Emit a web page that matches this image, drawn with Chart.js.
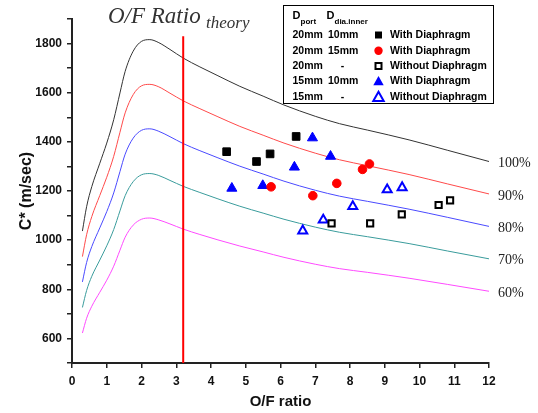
<!DOCTYPE html>
<html>
<head>
<meta charset="utf-8">
<script src="https://cdn.jsdelivr.net/npm/chart.js@4"></script>
<style>
  html, body { margin: 0; padding: 0; background: #fff; }
  canvas { display: block; }
</style>
</head>
<body>
<canvas id="chart" width="538" height="413"></canvas>
<script>
// theoretical C* curves
const ofTheory = [0.3, 0.42, 0.57, 0.8, 1.0, 1.2, 1.38, 1.53, 1.76, 2.0, 2.24, 2.48, 2.82, 3.2, 3.68, 4.2, 4.83, 5.5, 6.1, 7.0, 7.7, 8.5, 9.7, 10.8, 12];
const cStar100 = [1037, 1136, 1218, 1313, 1395, 1490, 1599, 1687, 1769, 1809, 1816, 1805, 1776, 1741, 1705, 1669, 1626, 1586, 1550, 1504, 1474, 1448, 1408, 1366, 1320];
const cStar90 = [933, 1022, 1096, 1182, 1256, 1341, 1439, 1518, 1592, 1628, 1634, 1625, 1598, 1567, 1535, 1502, 1463, 1427, 1395, 1354, 1327, 1303, 1267, 1229, 1188];
const cStar80 = [830, 909, 974, 1050, 1116, 1192, 1279, 1350, 1415, 1447, 1453, 1444, 1421, 1393, 1364, 1335, 1301, 1269, 1240, 1203, 1179, 1158, 1126, 1093, 1056];
const cStar70 = [726, 795, 853, 919, 977, 1043, 1119, 1181, 1238, 1266, 1271, 1264, 1243, 1219, 1194, 1168, 1138, 1110, 1085, 1053, 1032, 1014, 986, 956, 924];
const cStar60 = [622, 682, 731, 788, 837, 894, 959, 1012, 1061, 1085, 1090, 1083, 1066, 1045, 1023, 1001, 976, 952, 930, 902, 884, 869, 845, 820, 792];
const curveLabels = ["100%", "90%", "80%", "70%", "60%"];
const curveColors = ["#333333", "#ff4a4a", "#4a4aff", "#3a9c9c", "#ff4aff"];

// O/F ratio of the theory line
const ofTheoryLine = 3.2;

// measured points
const of20x10 = [4.45, 5.31, 5.70, 6.45];
const c20x10 = [1360, 1320, 1351, 1422];
const of20x15 = [5.73, 6.93, 7.62, 8.36, 8.56];
const c20x15 = [1217, 1181, 1231, 1288, 1310];
const of20none = [7.47, 8.58, 9.49, 10.55, 10.88];
const c20none = [1068, 1068, 1105, 1143, 1162];
const of15x10 = [4.60, 5.49, 6.40, 6.92, 7.44];
const c15x10 = [1211, 1222, 1297, 1416, 1341];
const of15none = [6.64, 7.23, 8.08, 9.07, 9.50];
const c15none = [1038, 1082, 1137, 1205, 1214];

// legend table
const dPort = ["20mm", "20mm", "20mm", "15mm", "15mm"];
const dDiaInner = ["10mm", "15mm", "-", "10mm", "-"];
const seriesLabels = ["With Diaphragm", "With Diaphragm", "Without Diaphragm", "With Diaphragm", "Without Diaphragm"];

const curveValues = [cStar100, cStar90, cStar80, cStar70, cStar60];
const toPoints = (xs, ys) => xs.map((x, i) => ({ x: x, y: ys[i] }));

const markerStyles = [
    { style: "rect", color: "#000000", filled: true, r: 5.4 },
    { style: "circle", color: "#ff0000", filled: true, r: 4.3 },
    { style: "rect", color: "#000000", filled: false, r: 4.4 },
    { style: "triangle", color: "#0000ff", filled: true, r: 5.8 },
    { style: "triangle", color: "#0000ff", filled: false, r: 5.2 },
];
const measured = [
    toPoints(of20x10, c20x10),
    toPoints(of20x15, c20x15),
    toPoints(of20none, c20none),
    toPoints(of15x10, c15x10),
    toPoints(of15none, c15none),
];

const datasets = [];
measured.forEach((pts, i) => {
    const m = markerStyles[i];
    datasets.push({
        type: "scatter",
        data: pts,
        pointStyle: m.style,
        pointRadius: m.r,
        backgroundColor: m.filled ? m.color : "#ffffff",
        borderColor: m.color,
        borderWidth: m.filled ? 1 : 2,
        order: 1,
    });
});
datasets.push({
    type: "line",
    data: [{ x: ofTheoryLine, y: 500 }, { x: ofTheoryLine, y: 1830 }],
    borderColor: "#ff0000",
    borderWidth: 2,
    pointRadius: 0,
    order: 2,
});
curveValues.forEach((vals, i) => {
    datasets.push({
        type: "line",
        data: toPoints(ofTheory, vals),
        borderColor: curveColors[i],
        borderWidth: 1,
        pointRadius: 0,
        cubicInterpolationMode: "monotone",
        fill: false,
        order: 3,
    });
});

function drawMarker(ctx, m, x, y, r) {
    ctx.beginPath();
    if (m.style === "rect") {
        ctx.rect(x - r, y - r, 2 * r, 2 * r);
    } else if (m.style === "circle") {
        ctx.arc(x, y, r, 0, Math.PI * 2);
    } else {
        ctx.moveTo(x, y - r);
        ctx.lineTo(x + r * 0.87, y + r * 0.55);
        ctx.lineTo(x - r * 0.87, y + r * 0.55);
        ctx.closePath();
    }
    if (m.filled) {
        ctx.fillStyle = m.color;
        ctx.fill();
    } else {
        ctx.fillStyle = "#fff";
        ctx.fill();
        ctx.lineWidth = 2;
        ctx.strokeStyle = m.color;
        ctx.stroke();
    }
}

// title, curve labels and the legend table
const overlayPlugin = {
    id: "overlay",
    afterDraw(chart) {
        const ctx = chart.ctx;
        const yScale = chart.scales.y;
        ctx.save();

        ctx.fillStyle = "#333";
        ctx.textAlign = "left";
        ctx.textBaseline = "alphabetic";
        ctx.font = "italic 23px 'Liberation Serif'";
        ctx.fillText("O/F Ratio", 108, 23);
        ctx.font = "italic 17px 'Liberation Serif'";
        ctx.fillText("theory", 206, 28);

        ctx.font = "14px 'Liberation Serif'";
        ctx.fillStyle = "#222";
        ctx.textBaseline = "middle";
        curveValues.forEach((vals, i) => {
            const y = yScale.getPixelForValue(vals[vals.length - 1]) + 2;
            ctx.fillText(curveLabels[i], 498, y);
        });

        // legend box
        ctx.fillStyle = "#fff";
        ctx.fillRect(283.5, 5.5, 210, 98);
        ctx.strokeStyle = "#000";
        ctx.lineWidth = 1;
        ctx.strokeRect(283.5, 5.5, 210, 98);

        ctx.fillStyle = "#000";
        ctx.textBaseline = "alphabetic";
        ctx.font = "bold 11px 'Liberation Sans'";
        ctx.fillText("D", 292.5, 19);
        ctx.fillText("D", 326.5, 19);
        ctx.font = "bold 8px 'Liberation Sans'";
        ctx.fillText("port", 300.5, 24);
        ctx.fillText("dia.inner", 334.5, 24);

        const rowY = [35, 50.7, 66, 81, 96.7];
        ctx.font = "bold 10.5px 'Liberation Sans'";
        ctx.textBaseline = "middle";
        rowY.forEach((y, i) => {
            ctx.fillStyle = "#000";
            ctx.textAlign = "left";
            ctx.fillText(dPort[i], 292.5, y);
            if (dDiaInner[i] === "-") {
                ctx.textAlign = "center";
                ctx.fillText("-", 342.5, y);
                ctx.textAlign = "left";
            } else {
                ctx.fillText(dDiaInner[i], 328, y);
            }
            ctx.fillText(seriesLabels[i], 390, y);
            const m = markerStyles[i];
            const r = m.style === "triangle" ? 6 : m.style === "circle" ? 4.2 : (m.filled ? 3.5 : 3);
            drawMarker(ctx, m, 378.5, y + (m.style === "triangle" ? 1 : 0), r);
        });

        ctx.restore();
    },
};

const tickFont = { family: "'Liberation Sans'", size: 12, weight: "bold" };
const titleFont = { family: "'Liberation Sans'", weight: "bold" };

new Chart(document.getElementById("chart").getContext("2d"), {
    type: "scatter",
    data: { datasets: datasets },
    options: {
        responsive: false,
        animation: false,
        layout: { padding: { top: 19, right: 49, left: 0, bottom: 0 } },
        plugins: {
            legend: { display: false },
            tooltip: { enabled: false },
        },
        scales: {
            x: {
                type: "linear",
                min: 0,
                max: 12,
                ticks: { stepSize: 1, color: "#111", font: tickFont, padding: 6, maxRotation: 0 },
                grid: { drawOnChartArea: false, drawTicks: true, tickLength: 5, color: "#222", lineWidth: 1.5 },
                border: { display: true, color: "#222", width: 2 },
                title: {
                    display: true,
                    text: "O/F ratio",
                    color: "#111",
                    font: Object.assign({ size: 15 }, titleFont),
                    padding: { top: 0, bottom: 2 },
                },
                afterFit(scale) { scale.height = 50; },
            },
            y: {
                type: "linear",
                min: 500,
                max: 1900,
                ticks: {
                    stepSize: 100,
                    autoSkip: false,
                    color: "#111",
                    font: tickFont,
                    padding: 5,
                    callback: (v) => (v % 200 === 0 ? v : ""),
                },
                grid: { drawOnChartArea: false, drawTicks: true, tickLength: 5, color: "#222", lineWidth: 1.5 },
                border: { display: true, color: "#222", width: 2 },
                title: {
                    display: true,
                    text: "C* (m/sec)",
                    color: "#111",
                    font: Object.assign({ size: 16 }, titleFont),
                    padding: { top: 17, bottom: 0 },
                },
                afterFit(scale) { scale.width = 72; },
            },
        },
    },
    plugins: [overlayPlugin],
});
</script>
</body>
</html>
